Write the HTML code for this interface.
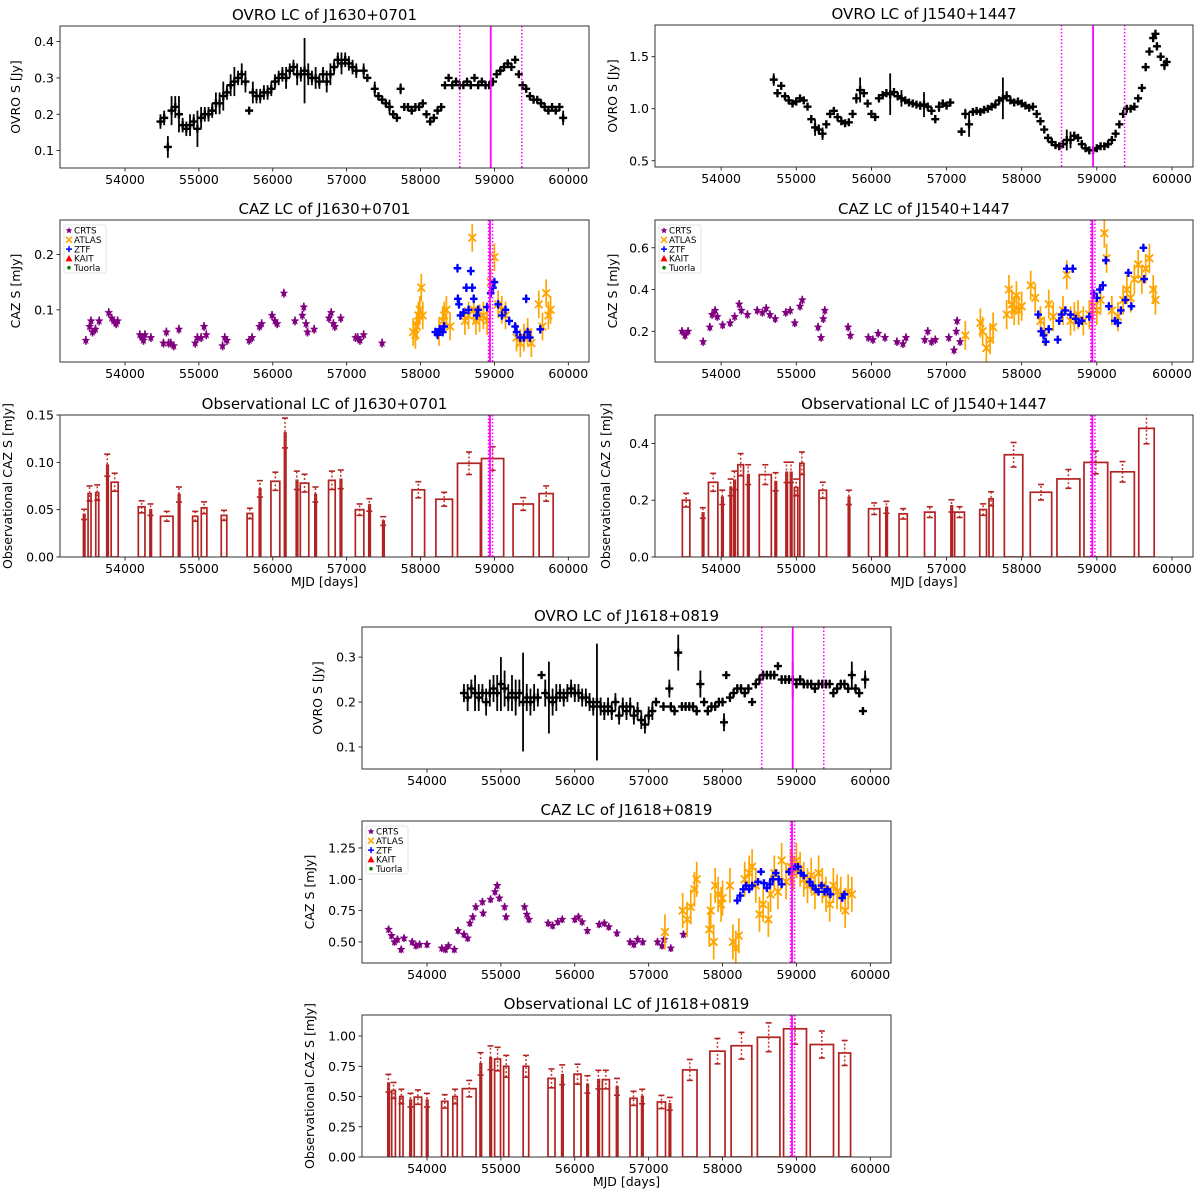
<!DOCTYPE html>
<html><head><meta charset="utf-8">
<style>
html,body{margin:0;padding:0;background:#fff;}
svg{display:block;font-family:"DejaVu Sans","Liberation Sans",sans-serif;}
</style></head>
<body>
<svg id="chart" width="1200" height="1200" viewBox="0 0 1200 1200" xmlns="http://www.w3.org/2000/svg"></svg>
<script>
// ---------- data ----------
const xTicks=[54000,55000,56000,57000,58000,59000,60000];
const xTickLabels=["54000","55000","56000","57000","58000","59000","60000"];
const ovroLines=[58530,58950,59370];
const cazLines=[58920,58940,58975];

// J1630+0701 OVRO
const j1630OvroT=[54480,54530,54580,54630,54680,54730,54780,54830,54880,54930,54980,55030,55080,55130,55180,55230,55280,55330,55380,55430,55480,55530,55580,55630,55680,55730,55780,55830,55880,55930,55980,56030,56080,56130,56180,56230,56280,56330,56380,56430,56480,56530,56580,56630,56680,56730,56780,56830,56880,56930,56980,57030,57080,57130,57230,57280,57380,57430,57480,57530,57580,57630,57680,57730,57780,57830,57880,57930,57980,58030,58080,58130,58180,58230,58280,58330,58380,58430,58480,58530,58580,58630,58680,58730,58780,58830,58880,58930,58980,59030,59080,59130,59180,59230,59280,59330,59380,59430,59480,59530,59580,59630,59680,59730,59780,59830,59880,59930];
const j1630OvroS=[0.18,0.19,0.11,0.21,0.22,0.20,0.17,0.16,0.17,0.18,0.16,0.19,0.20,0.20,0.21,0.23,0.23,0.25,0.26,0.28,0.29,0.30,0.31,0.29,0.21,0.26,0.25,0.25,0.26,0.26,0.27,0.29,0.30,0.31,0.30,0.32,0.33,0.31,0.31,0.32,0.31,0.30,0.30,0.29,0.31,0.29,0.31,0.33,0.35,0.34,0.35,0.34,0.33,0.32,0.32,0.30,0.27,0.25,0.24,0.23,0.22,0.20,0.19,0.27,0.22,0.22,0.21,0.22,0.22,0.23,0.20,0.18,0.19,0.21,0.22,0.28,0.30,0.28,0.29,0.28,0.28,0.29,0.28,0.30,0.28,0.29,0.28,0.28,0.29,0.31,0.32,0.33,0.34,0.33,0.35,0.31,0.28,0.27,0.25,0.24,0.24,0.23,0.22,0.21,0.22,0.21,0.22,0.19];
const j1630OvroE=[0.02,0.02,0.03,0.04,0.03,0.05,0.02,0.02,0.03,0.02,0.05,0.03,0.02,0.02,0.02,0.03,0.03,0.04,0.02,0.03,0.04,0.02,0.03,0.03,0.01,0.03,0.02,0.02,0.02,0.02,0.02,0.02,0.02,0.02,0.03,0.02,0.02,0.03,0.02,0.09,0.03,0.02,0.03,0.02,0.02,0.03,0.03,0.02,0.02,0.03,0.02,0.02,0.02,0.02,0.02,0.01,0.02,0.01,0.01,0.01,0.02,0.01,0.01,0.015,0.01,0.01,0.01,0.01,0.01,0.01,0.01,0.01,0.01,0.01,0.01,0.01,0.01,0.01,0.01,0.01,0.01,0.01,0.01,0.01,0.01,0.01,0.01,0.01,0.01,0.01,0.01,0.01,0.01,0.01,0.01,0.01,0.01,0.01,0.01,0.01,0.01,0.01,0.01,0.01,0.01,0.01,0.01,0.02];

// J1540+1447 OVRO
const j1540OvroT=[54700,54750,54800,54850,54900,54950,55000,55050,55100,55150,55200,55250,55300,55350,55400,55450,55500,55550,55600,55650,55700,55750,55800,55850,55900,55950,56000,56050,56100,56150,56200,56250,56300,56350,56400,56450,56500,56550,56600,56650,56700,56750,56800,56850,56900,56950,57000,57050,57200,57250,57300,57350,57400,57450,57500,57550,57600,57650,57700,57750,57800,57850,57900,57950,58000,58050,58100,58150,58200,58250,58300,58350,58400,58450,58500,58550,58600,58650,58700,58750,58800,58850,58900,58950,59000,59050,59100,59150,59200,59250,59300,59350,59400,59450,59500,59550,59600,59650,59700,59750,59780,59800,59850,59900,59930];
const j1540OvroS=[1.28,1.15,1.22,1.12,1.08,1.05,1.07,1.10,1.08,1.02,0.90,0.82,0.80,0.76,0.85,0.95,0.98,0.92,0.88,0.86,0.87,0.95,1.10,1.18,1.15,1.05,0.95,0.92,1.10,1.13,1.15,1.14,1.16,1.12,1.10,1.08,1.06,1.05,1.04,1.03,1.04,1.02,0.98,0.90,1.02,1.05,1.03,1.06,0.78,0.95,0.85,0.97,0.98,0.97,0.99,1.00,1.02,1.04,1.08,1.10,1.12,1.08,1.06,1.07,1.05,1.03,1.01,1.02,0.95,0.88,0.80,0.72,0.68,0.65,0.64,0.66,0.70,0.70,0.74,0.72,0.66,0.62,0.60,0.60,0.62,0.64,0.64,0.66,0.70,0.76,0.85,0.95,1.00,1.00,1.02,1.10,1.20,1.40,1.55,1.68,1.72,1.60,1.50,1.42,1.45];
const j1540OvroE=[0.06,0.04,0.03,0.03,0.03,0.03,0.04,0.03,0.03,0.03,0.04,0.08,0.05,0.06,0.04,0.03,0.03,0.03,0.03,0.03,0.03,0.04,0.05,0.12,0.04,0.03,0.03,0.03,0.04,0.04,0.04,0.2,0.04,0.04,0.08,0.03,0.03,0.03,0.03,0.04,0.12,0.03,0.03,0.04,0.05,0.04,0.03,0.03,0.04,0.05,0.12,0.03,0.03,0.03,0.03,0.03,0.03,0.03,0.04,0.2,0.05,0.03,0.03,0.03,0.03,0.03,0.03,0.03,0.03,0.03,0.03,0.03,0.03,0.03,0.03,0.03,0.1,0.08,0.04,0.03,0.03,0.03,0.03,0.04,0.03,0.03,0.03,0.03,0.03,0.03,0.03,0.03,0.03,0.03,0.03,0.03,0.03,0.04,0.04,0.04,0.04,0.04,0.04,0.05,0.04];

// J1618+0819 OVRO
const j1618OvroT=[54500,54550,54600,54650,54700,54750,54800,54850,54900,54950,55000,55050,55100,55150,55200,55250,55300,55350,55400,55450,55500,55550,55600,55650,55700,55750,55800,55850,55900,55950,56000,56050,56100,56150,56200,56250,56300,56350,56400,56450,56500,56550,56600,56650,56700,56750,56800,56850,56900,56950,57000,57050,57100,57200,57280,57300,57350,57400,57450,57500,57550,57600,57650,57700,57750,57800,57850,57900,57950,58000,58020,58050,58100,58150,58200,58250,58300,58350,58400,58450,58500,58550,58600,58650,58700,58750,58800,58850,58900,58950,59000,59050,59100,59150,59200,59250,59300,59350,59400,59450,59500,59550,59600,59650,59700,59750,59800,59850,59900,59930];
const j1618OvroS=[0.22,0.21,0.23,0.22,0.21,0.22,0.20,0.22,0.23,0.22,0.24,0.23,0.21,0.22,0.21,0.22,0.20,0.21,0.20,0.21,0.21,0.26,0.22,0.21,0.20,0.21,0.22,0.21,0.22,0.23,0.22,0.22,0.21,0.21,0.20,0.19,0.20,0.19,0.18,0.19,0.18,0.20,0.17,0.19,0.18,0.19,0.17,0.18,0.16,0.15,0.17,0.18,0.20,0.19,0.23,0.19,0.18,0.31,0.19,0.19,0.19,0.19,0.18,0.24,0.20,0.18,0.19,0.19,0.20,0.20,0.155,0.26,0.21,0.22,0.23,0.23,0.22,0.23,0.20,0.24,0.25,0.26,0.26,0.26,0.26,0.28,0.25,0.25,0.25,0.25,0.24,0.25,0.24,0.24,0.24,0.23,0.24,0.24,0.24,0.24,0.22,0.23,0.24,0.24,0.23,0.26,0.23,0.22,0.18,0.25];
const j1618OvroE=[0.02,0.03,0.02,0.04,0.03,0.02,0.03,0.03,0.03,0.04,0.06,0.04,0.03,0.04,0.04,0.03,0.11,0.03,0.03,0.03,0.02,0.005,0.03,0.08,0.03,0.03,0.02,0.02,0.02,0.02,0.02,0.02,0.02,0.02,0.02,0.02,0.13,0.02,0.02,0.02,0.02,0.02,0.02,0.02,0.02,0.02,0.02,0.02,0.02,0.02,0.02,0.02,0.01,0.01,0.02,0.01,0.01,0.04,0.01,0.01,0.01,0.01,0.01,0.03,0.01,0.01,0.01,0.01,0.01,0.01,0.02,0.005,0.01,0.01,0.01,0.01,0.01,0.01,0.005,0.01,0.01,0.01,0.01,0.01,0.01,0.005,0.01,0.01,0.01,0.04,0.01,0.01,0.01,0.01,0.01,0.01,0.01,0.01,0.01,0.01,0.01,0.01,0.01,0.01,0.01,0.03,0.01,0.01,0.005,0.02];

// J1630 CAZ
const j1630CrtsT=[53470,53520,53540,53560,53600,53650,53780,53820,53850,53880,53900,54200,54230,54250,54270,54350,54520,54560,54590,54620,54660,54730,54950,54980,55030,55070,55100,55320,55350,55380,55680,55720,55820,55850,55990,56030,56060,56150,56300,56400,56420,56450,56470,56560,56760,56790,56820,56840,56920,57120,57150,57180,57230,57480];
const j1630CrtsS=[0.045,0.07,0.08,0.06,0.065,0.08,0.095,0.085,0.08,0.075,0.08,0.055,0.05,0.045,0.055,0.05,0.04,0.06,0.04,0.04,0.035,0.065,0.04,0.05,0.05,0.07,0.055,0.035,0.05,0.045,0.045,0.05,0.07,0.075,0.09,0.08,0.075,0.13,0.08,0.09,0.105,0.075,0.06,0.065,0.085,0.095,0.075,0.07,0.085,0.05,0.05,0.045,0.055,0.04];
const j1630AtlasT=[57900,57930,57950,57970,57990,58010,58030,58250,58300,58320,58350,58400,58600,58650,58700,58720,58750,58800,58850,58900,58950,59000,59050,59100,59150,59300,59350,59400,59450,59500,59600,59650,59700,59730,59760];
const j1630AtlasS=[0.06,0.055,0.07,0.09,0.1,0.14,0.09,0.06,0.08,0.09,0.1,0.07,0.08,0.09,0.23,0.1,0.08,0.085,0.09,0.08,0.15,0.195,0.11,0.1,0.09,0.05,0.04,0.05,0.06,0.04,0.11,0.07,0.13,0.09,0.1];
const j1630ZtfT=[58200,58230,58260,58300,58320,58500,58505,58520,58540,58580,58620,58650,58680,58700,58720,58760,58780,58900,58950,58980,59000,59050,59100,59150,59200,59280,59300,59350,59400,59430,59450,59480,59620];
const j1630ZtfS=[0.06,0.055,0.065,0.06,0.07,0.175,0.12,0.11,0.09,0.095,0.14,0.1,0.17,0.14,0.12,0.09,0.1,0.105,0.13,0.14,0.15,0.11,0.09,0.1,0.08,0.07,0.06,0.05,0.05,0.12,0.06,0.05,0.065];

// J1540 CAZ
const j1540CrtsT=[53480,53520,53560,53760,53850,53880,53920,53950,54020,54120,54180,54240,54270,54350,54480,54550,54600,54650,54720,54860,54920,54980,55050,55080,55290,55330,55360,55380,55690,55720,55960,56020,56090,56180,56340,56420,56460,56710,56750,56800,56850,57030,57100,57130,57140,57180];
const j1540CrtsS=[0.2,0.18,0.2,0.15,0.22,0.28,0.3,0.27,0.23,0.24,0.27,0.33,0.3,0.28,0.3,0.29,0.31,0.28,0.26,0.29,0.3,0.24,0.32,0.35,0.22,0.17,0.26,0.3,0.22,0.18,0.17,0.16,0.19,0.17,0.15,0.14,0.17,0.16,0.2,0.15,0.16,0.17,0.11,0.2,0.25,0.15];
const j1540AtlasT=[57250,57450,57480,57530,57580,57620,57800,57830,57870,57900,57930,57960,58000,58120,58180,58250,58300,58360,58420,58550,58600,58650,58700,58750,58820,58900,58950,59000,59050,59100,59130,59200,59280,59350,59400,59450,59500,59550,59600,59650,59700,59750,59780];
const j1540AtlasS=[0.18,0.24,0.2,0.12,0.16,0.22,0.28,0.4,0.33,0.3,0.37,0.3,0.32,0.42,0.36,0.25,0.2,0.33,0.27,0.3,0.47,0.25,0.27,0.28,0.25,0.28,0.32,0.3,0.35,0.67,0.55,0.3,0.27,0.35,0.4,0.36,0.45,0.52,0.45,0.5,0.55,0.4,0.35];
const j1540ZtfT=[58220,58260,58290,58320,58360,58480,58500,58530,58580,58600,58650,58680,58720,58760,58800,58900,58960,59000,59040,59080,59120,59160,59240,59280,59320,59380,59420,59460,59620,59630];
const j1540ZtfS=[0.28,0.2,0.18,0.15,0.21,0.16,0.25,0.28,0.3,0.5,0.28,0.5,0.26,0.24,0.25,0.27,0.38,0.36,0.4,0.42,0.54,0.32,0.25,0.24,0.3,0.35,0.48,0.32,0.6,0.45];

// J1618 CAZ
const j1618CrtsT=[53480,53520,53560,53600,53650,53690,53800,53850,53900,54000,54200,54250,54290,54370,54420,54500,54550,54580,54620,54660,54750,54760,54860,54920,54950,54980,55050,55070,55320,55350,55380,55640,55700,55770,55830,56000,56050,56100,56170,56330,56400,56460,56570,56750,56800,56850,56920,57120,57180,57210,57300,57470];
const j1618CrtsS=[0.6,0.55,0.5,0.52,0.44,0.53,0.5,0.47,0.48,0.48,0.45,0.44,0.47,0.44,0.59,0.56,0.53,0.65,0.7,0.78,0.82,0.73,0.84,0.9,0.95,0.85,0.78,0.7,0.78,0.72,0.68,0.65,0.63,0.66,0.68,0.68,0.7,0.66,0.59,0.64,0.65,0.62,0.57,0.5,0.48,0.52,0.5,0.5,0.47,0.52,0.45,0.56];
const j1618AtlasT=[57220,57460,57520,57570,57620,57650,57820,57840,57880,57900,57940,57980,58000,58100,58140,58180,58220,58300,58360,58400,58450,58500,58550,58620,58650,58700,58750,58800,58860,58920,58960,59000,59050,59100,59150,59200,59250,59300,59350,59400,59450,59500,59550,59600,59660,59700,59750];
const j1618AtlasS=[0.58,0.75,0.68,0.78,0.92,1.0,0.6,0.75,0.5,0.95,0.88,0.8,0.85,0.95,0.5,0.45,0.55,1.0,1.05,1.1,0.95,0.72,0.8,0.68,0.88,1.05,0.9,1.15,0.98,1.1,1.05,1.15,1.08,1.0,0.95,1.03,0.9,1.05,0.95,0.88,0.8,0.95,0.9,0.88,0.75,0.9,0.88];
const j1618ZtfT=[58200,58240,58280,58320,58360,58400,58480,58520,58560,58600,58640,58680,58720,58760,58800,58900,58940,58980,59020,59060,59100,59180,59220,59260,59300,59340,59380,59420,59460,59620,59650];
const j1618ZtfS=[0.83,0.87,0.92,0.95,0.92,0.95,0.98,1.06,0.97,0.93,0.96,1.0,1.05,1.0,0.96,1.06,1.08,1.1,1.1,1.05,1.03,0.98,0.95,0.92,0.9,0.95,0.9,0.92,0.88,0.85,0.88];

// Observational bars (center MJD, width days, value)
const j1630BarT=[53447,53520,53624,53760,53860,54225,54345,54565,54730,54950,55070,55340,55690,55825,56035,56165,56325,56430,56577,56800,56920,57175,57307,57495,57970,58320,58655,58975,59390,59700];
const j1630BarW=[20,40,40,15,95,90,15,170,15,70,75,75,75,15,120,15,15,115,15,90,15,115,15,15,170,225,310,300,275,190];
const j1630BarV=[0.045,0.067,0.068,0.097,0.079,0.053,0.050,0.043,0.066,0.043,0.052,0.044,0.046,0.072,0.080,0.131,0.081,0.078,0.066,0.081,0.082,0.050,0.055,0.038,0.071,0.061,0.099,0.104,0.056,0.067];
const j1540BarT=[53534,53757,53894,54015,54127,54177,54260,54360,54588,54725,54870,54930,54998,55075,55353,55700,56037,56200,56423,56777,57066,57173,57487,57593,57892,58257,58622,58987,59342,59661];
const j1540BarW=[100,15,125,15,15,15,75,15,160,15,15,15,45,55,100,15,150,15,110,140,15,130,90,55,245,285,305,315,315,205];
const j1540BarV=[0.20,0.155,0.263,0.21,0.245,0.27,0.325,0.29,0.29,0.265,0.298,0.298,0.245,0.33,0.235,0.21,0.17,0.175,0.152,0.158,0.18,0.158,0.167,0.205,0.36,0.228,0.275,0.333,0.30,0.453];
const j1618BarT=[53477,53547,53653,53776,53877,54000,54240,54379,54571,54725,54859,54955,55072,55339,55685,55830,56037,56171,56320,56421,56571,56795,56912,57173,57285,57557,57931,58256,58624,58981,59344,59653];
const j1618BarW=[15,50,45,15,100,15,85,60,185,15,15,80,70,75,95,15,95,15,15,95,15,95,15,110,15,195,205,280,305,310,315,160];
const j1618BarV=[0.61,0.55,0.50,0.47,0.495,0.47,0.46,0.50,0.565,0.77,0.82,0.81,0.75,0.75,0.65,0.68,0.685,0.60,0.64,0.64,0.58,0.485,0.50,0.455,0.44,0.72,0.875,0.92,0.99,1.06,0.93,0.86];

// ---------- drawing ----------
const NS="http://www.w3.org/2000/svg";
const svg=document.getElementById('chart');
function mk(tag,attrs,parent){const e=document.createElementNS(NS,tag);for(const k in attrs)e.setAttribute(k,attrs[k]);(parent||svg).appendChild(e);return e;}
const XMIN=53120,XMAX=60280;

function makePanel(o){
  const g=mk('g',{});
  
  
  const sx=v=>o.x0+(v-XMIN)/(XMAX-XMIN)*(o.x1-o.x0);
  const sy=v=>o.y1-(v-o.ymin)/(o.ymax-o.ymin)*(o.y1-o.y0);
  const clip='clip-'+o.name;
  const cp=mk('clipPath',{id:clip},g);
  mk('rect',{x:o.x0,y:o.y0,width:o.x1-o.x0,height:o.y1-o.y0},cp);
  const plot=mk('g',{'clip-path':'url(#'+clip+')'},g);
  
  
  const t=mk('text',{x:(o.x0+o.x1)/2,y:o.y0-6,'text-anchor':'middle','font-size':15,fill:'#000'},g);
  t.textContent=o.title;
  
  
  xTicks.forEach((v,i)=>{
    const x=sx(v);
    mk('line',{x1:x,x2:x,y1:o.y1,y2:o.y1+3.5,stroke:'#000','stroke-width':0.8},g);
    const tl=mk('text',{x:x,y:o.y1+16,'text-anchor':'middle','font-size':12.5},g);
    tl.textContent=xTickLabels[i];
    
    
  });
  o.yticks.forEach((v,i)=>{
    const y=sy(v);
    mk('line',{x1:o.x0-3.5,x2:o.x0,y1:y,y2:y,stroke:'#000','stroke-width':0.8},g);
    const tl=mk('text',{x:o.x0-6,y:y+4.5,'text-anchor':'end','font-size':12.5},g);
    tl.textContent=o.ylabels[i];
    
    
  });
  const yl=mk('text',{x:o.ylx,y:(o.y0+o.y1)/2,'text-anchor':'middle','font-size':12.5,transform:'rotate(-90 '+o.ylx+' '+((o.y0+o.y1)/2)+')'},g);
  yl.textContent=o.ylabel;
  
  
  if(o.xlabel){
    const xl=mk('text',{x:(o.x0+o.x1)/2,y:o.y1+29,'text-anchor':'middle','font-size':12.5},g);
    xl.textContent='MJD [days]';
    
    
  }
  return {g,plot,sx,sy,o};
}
function frame(P){
  const o=P.o;
  const r=mk('rect',{x:o.x0,y:o.y0,width:o.x1-o.x0,height:o.y1-o.y0,fill:'none',stroke:'#333','stroke-width':1},P.g);
  
  
}
function vlines(P,vals){
  vals.forEach((v,i)=>{
    const x=P.sx(v);
    const dotted=(i!==1);
    const l=mk('line',{x1:x,x2:x,y1:P.o.y0,y2:P.o.y1,stroke:'#ff00ff','stroke-width':dotted?1.5:1.8,'stroke-dasharray':dotted?'1.5,2':'none'},P.plot);
    
    
  });
}
function errPts(P,T,S,E,color,marker,name,sz,ew){
  const grp=mk('g',{},P.plot);
  
  
  T.forEach((t,i)=>{
    const x=P.sx(t),y=P.sy(S[i]);
    const ee=Array.isArray(E)?E[i]:E;
    mk('line',{x1:x,x2:x,y1:P.sy(S[i]-ee),y2:P.sy(S[i]+ee),stroke:color,'stroke-width':ew},grp);
    let m;
    if(marker==='+'){
      m=mk('path',{d:`M${x-sz} ${y}H${x+sz}M${x} ${y-sz}V${y+sz}`,stroke:color,'stroke-width':2.4,fill:'none'},grp);
    }else if(marker==='x'){
      m=mk('path',{d:`M${x-sz} ${y-sz}L${x+sz} ${y+sz}M${x-sz} ${y+sz}L${x+sz} ${y-sz}`,stroke:color,'stroke-width':1.8,fill:'none'},grp);
    }else{
      let pts=[];for(let k=0;k<10;k++){const a=-Math.PI/2+k*Math.PI/5;const r=k%2?sz*0.45:sz;pts.push((x+r*Math.cos(a)).toFixed(1)+','+(y+r*Math.sin(a)).toFixed(1));}
      m=mk('polygon',{points:pts.join(' '),fill:color},grp);
    }
    
    
  });
}
function bars(P,T,W,V){
  const grp=mk('g',{},P.plot);
  
  
  T.forEach((t,i)=>{
    const xl=P.sx(t-W[i]/2),xr=P.sx(t+W[i]/2);
    const w=Math.max(xr-xl,1.5);
    const b=mk('rect',{x:xl,y:P.sy(V[i]),width:w,height:P.sy(0)-P.sy(V[i]),fill:'none',stroke:'#b22222','stroke-width':1.7},grp);
    
    
    const xc=P.sx(t),e=V[i]*0.12;
    mk('line',{x1:xc,x2:xc,y1:P.sy(V[i]-e),y2:P.sy(V[i]+e),stroke:'#c0392b','stroke-width':1.5,'stroke-dasharray':'2,2'},grp);
    [V[i]-e,V[i]+e].forEach(v=>{mk('line',{x1:xc-3,x2:xc+3,y1:P.sy(v),y2:P.sy(v),stroke:'#b22222','stroke-width':1.6},grp);});
  });
}
function legend(P){
  const x=P.o.x0+4,y=P.o.y0+5;
  const lg=mk('g',{},P.g);
  
  
  mk('rect',{x:x,y:y,width:42,height:48,rx:2,fill:'#fff','fill-opacity':0.85,stroke:'#ddd','stroke-width':0.8},lg);
  const items=[['CRTS','#800080','star'],['ATLAS','#ffa500','x'],['ZTF','#0000ff','+'],['KAIT','#ff0000','tri'],['Tuorla','#008000','dot']];
  items.forEach((it,i)=>{
    const cy=y+5.5+i*9.3,cx=x+5;
    let m;
    if(it[2]==='star'){let pts=[];for(let k=0;k<10;k++){const a=-Math.PI/2+k*Math.PI/5;const r=k%2?1.6:3.5;pts.push((cx+r*Math.cos(a)).toFixed(1)+','+(cy+r*Math.sin(a)).toFixed(1));}m=mk('polygon',{points:pts.join(' '),fill:it[1]},lg);}
    else if(it[2]==='x'){m=mk('path',{d:`M${cx-3} ${cy-3}L${cx+3} ${cy+3}M${cx-3} ${cy+3}L${cx+3} ${cy-3}`,stroke:it[1],'stroke-width':1.5},lg);}
    else if(it[2]==='+'){m=mk('path',{d:`M${cx-3} ${cy}H${cx+3}M${cx} ${cy-3}V${cy+3}`,stroke:it[1],'stroke-width':1.5},lg);}
    else if(it[2]==='tri'){m=mk('polygon',{points:`${cx},${cy-3.5} ${cx+3.5},${cy+3} ${cx-3.5},${cy+3}`,fill:it[1]},lg);}
    else {m=mk('circle',{cx:cx,cy:cy,r:1.8,fill:it[1]},lg);}
    
    
    const tx=mk('text',{x:x+10,y:cy+3.2,'font-size':8.8},lg);
    tx.textContent=it[0];
    
    
  });
}

const cols={L:[60,589],R:[655,1193],M:[362,891]};
function ovroPanel(name,col,y0,y1,ymin,ymax,yt,ylab,ylx,title,T,S,E){
  const P=makePanel({name,x0:cols[col][0],x1:cols[col][1],y0,y1,ymin,ymax,yticks:yt,ylabels:ylab,ylabel:'OVRO S [Jy]',ylx,title});
  errPts(P,T,S,E,'#000','+','ovro-series',4,1.8);
  vlines(P,ovroLines);frame(P);
}
function cazPanel(name,col,y0,y1,ymin,ymax,yt,ylab,ylx,title,d,errs){
  const P=makePanel({name,x0:cols[col][0],x1:cols[col][1],y0,y1,ymin,ymax,yticks:yt,ylabels:ylab,ylabel:'CAZ S [mJy]',ylx,title});
  errPts(P,d[0],d[1],errs[0],'#800080','star','crts-series',4.5,1.6);
  errPts(P,d[2],d[3],errs[1],'#ffa500','x','atlas-series',3.8,1.7);
  errPts(P,d[4],d[5],errs[2],'#0000ff','+','ztf-series',3.8,1.6);
  vlines(P,cazLines);frame(P);legend(P);
}
function obsPanel(name,col,y0,y1,ymax,yt,ylab,ylx,title,T,W,V){
  const P=makePanel({name,x0:cols[col][0],x1:cols[col][1],y0,y1,ymin:0,ymax,yticks:yt,ylabels:ylab,ylabel:'Observational CAZ S [mJy]',ylx,title,xlabel:true});
  bars(P,T,W,V);vlines(P,cazLines);frame(P);
}

ovroPanel('ovro-j1630','L',26,168,0.052,0.443,[0.1,0.2,0.3,0.4],['0.1','0.2','0.3','0.4'],20,'OVRO LC of J1630+0701',j1630OvroT,j1630OvroS,j1630OvroE);
cazPanel('caz-j1630','L',220,362,0.006,0.262,[0.1,0.2],['0.1','0.2'],20,'CAZ LC of J1630+0701',[j1630CrtsT,j1630CrtsS,j1630AtlasT,j1630AtlasS,j1630ZtfT,j1630ZtfS],[0.008,0.025,0.008]);
obsPanel('obs-j1630','L',415,557,0.15,[0,0.05,0.1,0.15],['0.00','0.05','0.10','0.15'],12,'Observational LC of J1630+0701',j1630BarT,j1630BarW,j1630BarV);

ovroPanel('ovro-j1540','R',25,167,0.44,1.805,[0.5,1.0,1.5],['0.5','1.0','1.5'],617,'OVRO LC of J1540+1447',j1540OvroT,j1540OvroS,j1540OvroE);
cazPanel('caz-j1540','R',220,362,0.053,0.733,[0.2,0.4,0.6],['0.2','0.4','0.6'],617,'CAZ LC of J1540+1447',[j1540CrtsT,j1540CrtsS,j1540AtlasT,j1540AtlasS,j1540ZtfT,j1540ZtfS],[0.02,0.07,0.02]);
obsPanel('obs-j1540','R',415,557,0.5,[0,0.2,0.4],['0.0','0.2','0.4'],610,'Observational LC of J1540+1447',j1540BarT,j1540BarW,j1540BarV);

ovroPanel('ovro-j1618','M',627,769,0.051,0.367,[0.1,0.2,0.3],['0.1','0.2','0.3'],322,'OVRO LC of J1618+0819',j1618OvroT,j1618OvroS,j1618OvroE);
cazPanel('caz-j1618','M',821,963,0.332,1.465,[0.5,0.75,1.0,1.25],['0.50','0.75','1.00','1.25'],314,'CAZ LC of J1618+0819',[j1618CrtsT,j1618CrtsS,j1618AtlasT,j1618AtlasS,j1618ZtfT,j1618ZtfS],[0.03,0.14,0.02]);
obsPanel('obs-j1618','M',1015,1157,1.174,[0,0.25,0.5,0.75,1.0],['0.00','0.25','0.50','0.75','1.00'],314,'Observational LC of J1618+0819',j1618BarT,j1618BarW,j1618BarV);
</script>
</body></html>
